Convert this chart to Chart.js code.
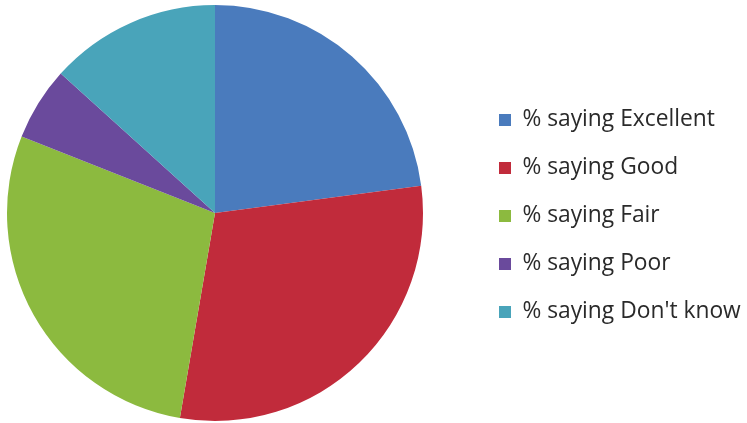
<!DOCTYPE html>
<html>
<head>
<meta charset="utf-8">
<script src="https://cdn.jsdelivr.net/npm/chart.js@4"></script>
<style>
html,body{margin:0;padding:0;background:#fff;}
#wrap{width:747px;height:423px;position:relative;}
</style>
</head>
<body>
<div id="wrap"><canvas id="c" width="747" height="423"></canvas></div>
<script>
const categories = ["% saying Excellent", "% saying Good", "% saying Fair", "% saying Poor", "% saying Don't know"];
const values = [22.9, 29.8, 28.3, 5.7, 13.3];
const colors = ["#4a7bbd", "#c12b3b", "#8cba3f", "#6a4a9c", "#49a4ba"];

const legendShift = {
  id: 'legendShift',
  afterLayout(chart) {
    const lg = chart.legend;
    const target = 499 - lg.options.labels.padding;
    const d = target - lg.left;
    lg.left += d; lg.right += d;
    lg.top += 3; lg.bottom += 3;
    if (lg.legendHitBoxes) lg.legendHitBoxes.forEach(h => { h.left += d; h.top += 3; });
    const ca = chart.chartArea;
    ca.left = 7; ca.right = 423; ca.width = 416;
  }
};

new Chart(document.getElementById('c'), {
  type: 'pie',
  data: {
    labels: categories,
    datasets: [{ data: values, backgroundColor: colors, borderWidth: 0 }]
  },
  options: {
    responsive: false,
    animation: false,
    layout: { padding: { left: 7, top: 5, bottom: 2, right: 0 } },
    plugins: {
      tooltip: { enabled: false },
      legend: {
        position: 'right',
        align: 'center',
        labels: {
          boxWidth: 12, boxHeight: 12, padding: 25.2,
          color: '#2a2a2a',
          font: { family: 'Open Sans', size: 22.8 }
        }
      }
    }
  },
  plugins: [legendShift]
});
</script>
</body>
</html>
